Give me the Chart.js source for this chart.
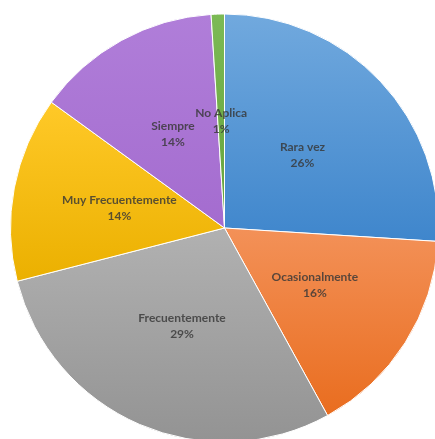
<!DOCTYPE html>
<html>
<head>
<meta charset="utf-8">
<script src="https://cdn.jsdelivr.net/npm/chart.js@4"></script>
<style>
  html, body { margin: 0; padding: 0; background: #fff; }
  #wrap { width: 435px; height: 439px; position: relative; overflow: hidden; }
  #box { width: 439px; height: 443px; position: absolute; left: 0; top: 0; }
</style>
</head>
<body>
<div id="wrap"><div id="box"><canvas id="pieChart"></canvas></div></div>
<script>
// Survey answers (percent of responses)
const labels = ['Rara vez', 'Ocasionalmente', 'Frecuentemente', 'Muy Frecuentemente', 'Siempre', 'No Aplica'];
const values = [26, 16, 29, 14, 14, 1];

// Slice colours: lighter shade at the top of each slice, darker at the bottom
const topColors = ['#71a9de', '#f39158', '#b1b1b1', '#ffc928', '#b07ed9', '#7cba55'];
const bottomColors = ['#3f86cc', '#e96d1f', '#939393', '#ebb000', '#a46ccf', '#64a13c'];

// Each arc gets its own vertical gradient spanning its bounding box
const sliceGradient = {
    id: 'sliceGradient',
    beforeDatasetsDraw(chart) {
        const ctx = chart.ctx;
        chart.getDatasetMeta(0).data.forEach((arc, i) => {
            const { x, y, startAngle, endAngle, outerRadius } = arc.getProps(['x', 'y', 'startAngle', 'endAngle', 'outerRadius'], true);
            let ys = [y, y + Math.sin(startAngle) * outerRadius, y + Math.sin(endAngle) * outerRadius];
            // include the very top / bottom of the circle when the arc passes them
            [-Math.PI / 2, Math.PI / 2, 3 * Math.PI / 2].forEach(a => {
                if (a > startAngle && a < endAngle) ys.push(y + Math.sin(a) * outerRadius);
            });
            const g = ctx.createLinearGradient(0, Math.min(...ys), 0, Math.max(...ys));
            g.addColorStop(0, topColors[i]);
            g.addColorStop(1, bottomColors[i]);
            arc.options.backgroundColor = g;
        });
    }
};

// Two-line "name / percent" labels at the middle of each slice
const sliceLabels = {
    id: 'sliceLabels',
    afterDatasetsDraw(chart) {
        const ctx = chart.ctx;
        const total = values.reduce((a, b) => a + b, 0);
        ctx.save();
        ctx.font = 'bold 12px Lato, "Open Sans", sans-serif';
        ctx.fillStyle = 'rgba(55, 55, 55, 0.82)';
        ctx.textAlign = 'center';
        ctx.textBaseline = 'middle';
        chart.getDatasetMeta(0).data.forEach((arc, i) => {
            const p = arc.getCenterPoint();
            const pct = Math.round(values[i] / total * 100) + '%';
            ctx.fillText(labels[i], p.x, p.y - 8);
            ctx.fillText(pct, p.x, p.y + 8);
        });
        ctx.restore();
    }
};

new Chart(document.getElementById('pieChart').getContext('2d'), {
    type: 'pie',
    data: {
        labels: labels,
        datasets: [{
            data: values,
            backgroundColor: bottomColors,
            borderColor: '#ffffff',
            borderWidth: 1
        }]
    },
    options: {
        responsive: true,
        maintainAspectRatio: false,
        animation: false,
        layout: {
            padding: { left: 10, top: 13, right: 0, bottom: 0 }
        },
        plugins: {
            legend: { display: false },
            tooltip: { enabled: false }
        }
    },
    plugins: [sliceGradient, sliceLabels]
});
</script>
</body>
</html>
